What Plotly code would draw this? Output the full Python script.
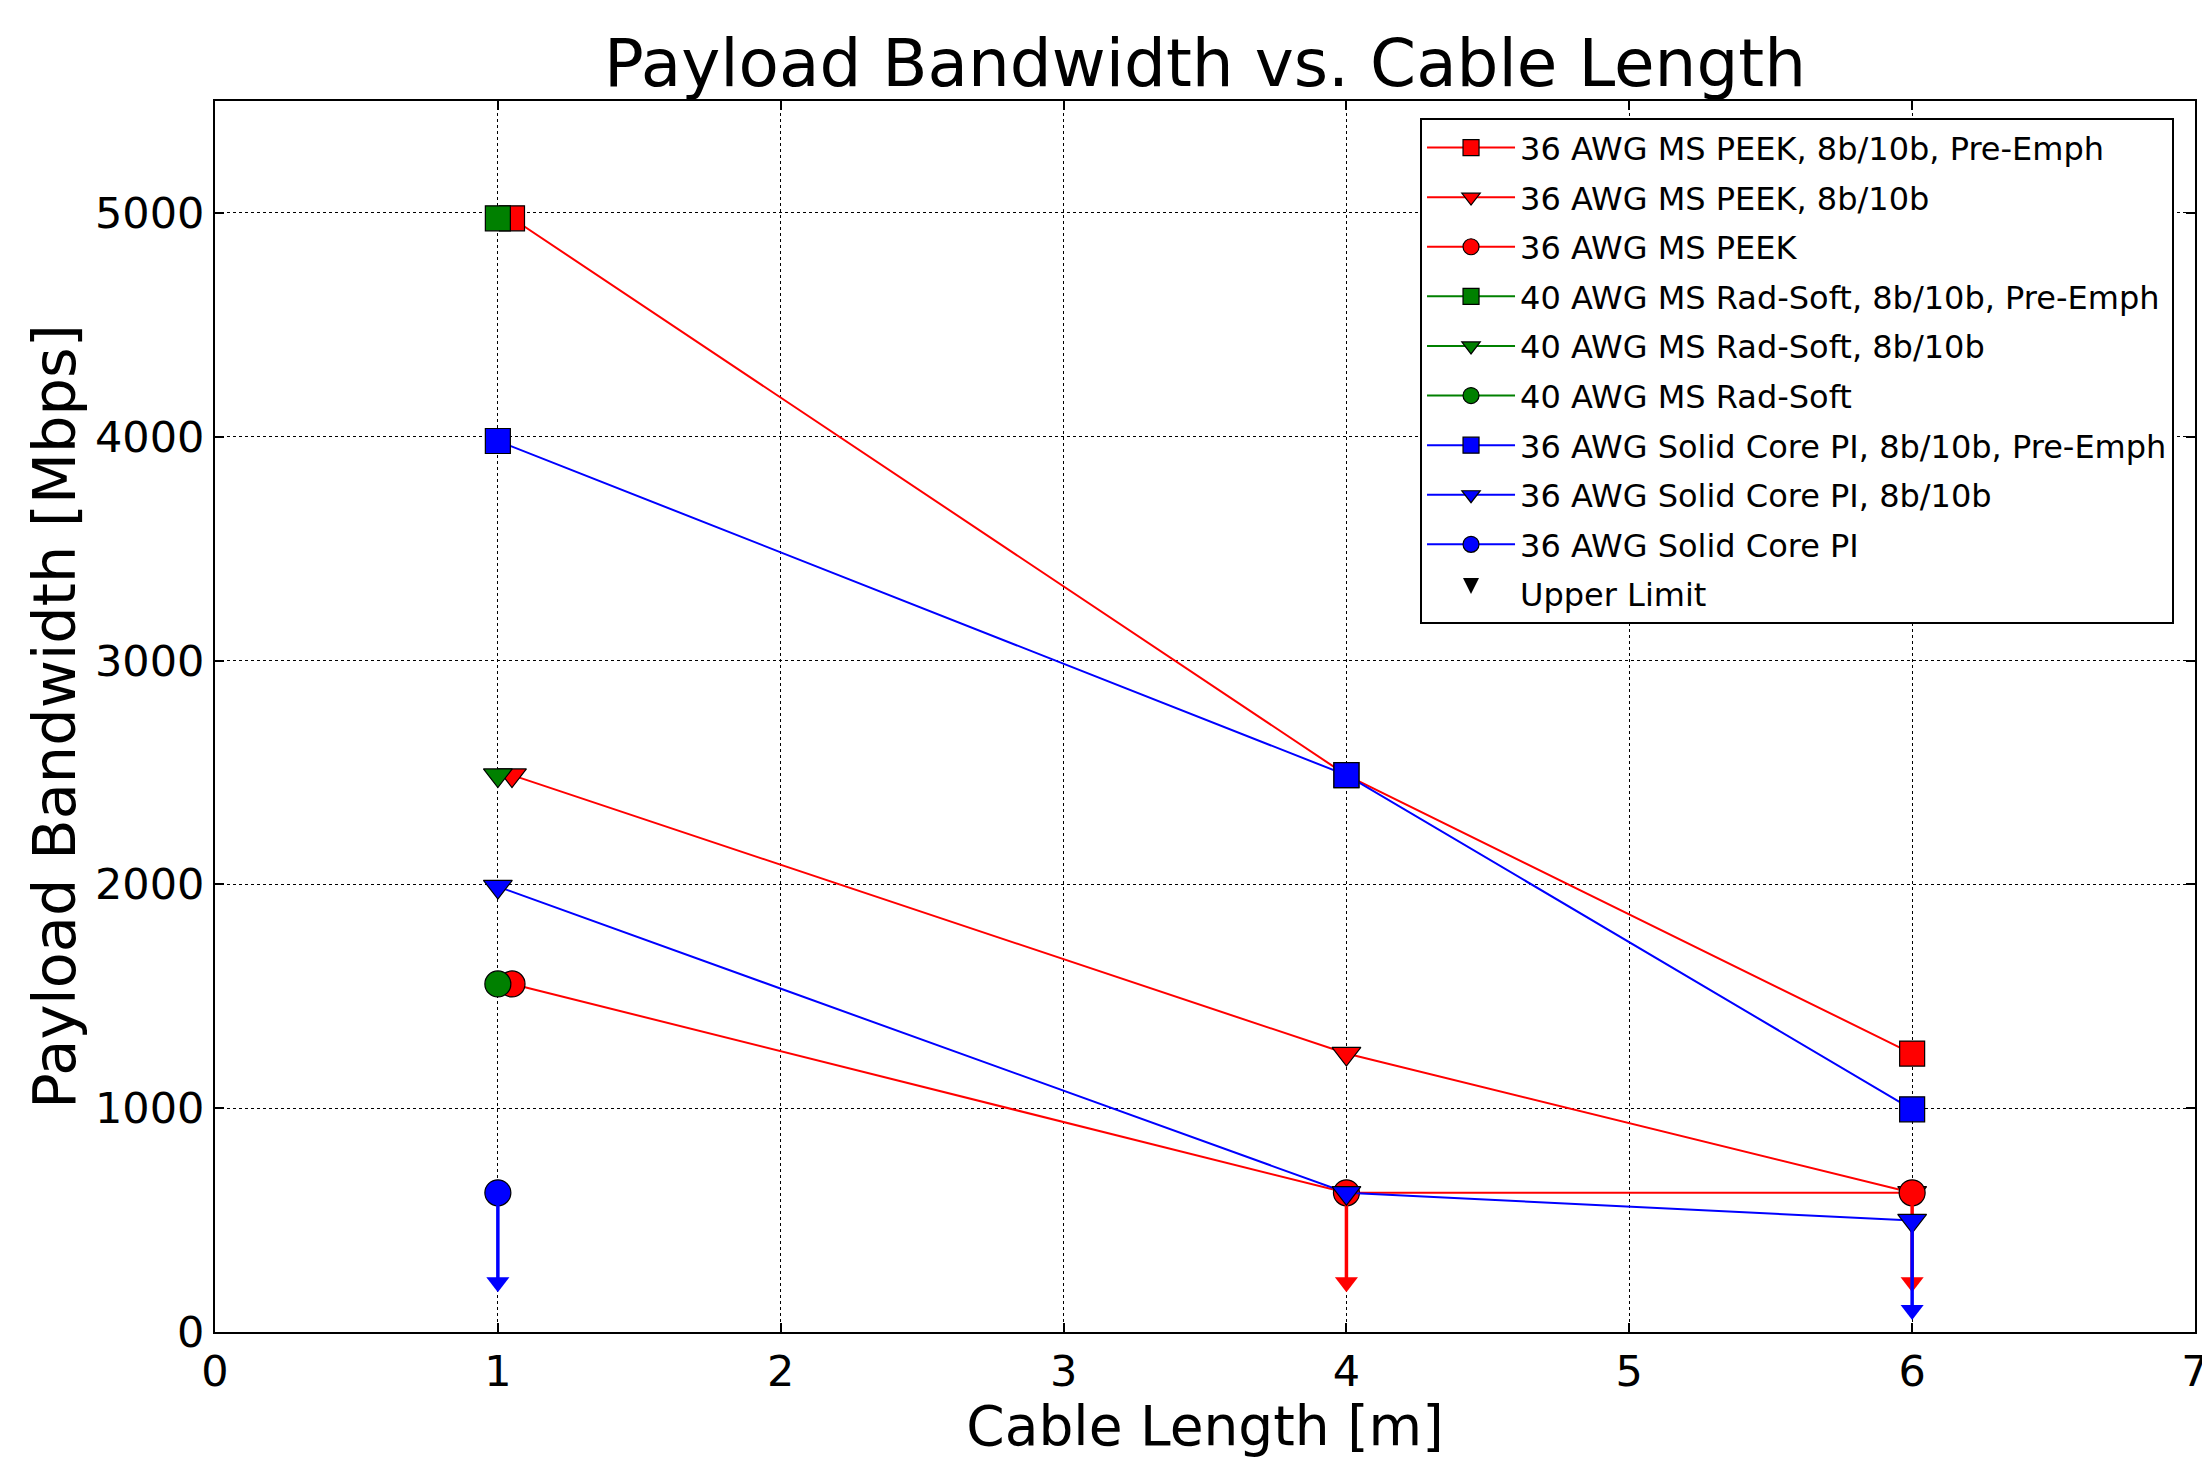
import plotly.graph_objects as go

# ---- data ----
lengths_m = [1, 4, 6]
lengths_offset = [1.05, 4, 6]          # red series plotted slightly right at 1 m
radsoft_len = [1]
pi_circle_len = [1]

peek_preemph = [4976, 2488, 1244]
peek_8b10b = [2488, 1244, 622]
peek_plain = [1555, 622, 622]
radsoft_preemph = [4976]
radsoft_8b10b = [2488]
radsoft_plain = [1555]
pi_preemph = [3981, 2488, 995]
pi_8b10b = [1990, 622, 498]
pi_plain = [622]

# upper-limit flags (value is an upper limit)
peek_plain_uplim = [False, True, True]
pi_8b10b_uplim = [False, False, True]
pi_plain_uplim = [True]
uplim_len = 400

x_ticks = [0, 1, 2, 3, 4, 5, 6, 7]
y_ticks = [0, 1000, 2000, 3000, 4000, 5000]

RED, GREEN, BLUE = "#ff0000", "#008000", "#0000ff"
FONT = "DejaVu Sans"

fig = go.Figure()
_grp = [0]


def add_series(name, xs, ys, color, symbol, size):
    _grp[0] += 1
    fig.add_trace(go.Scatter(
        x=xs, y=ys, name=name, mode="lines+markers", legendgroup=f"g{_grp[0]}",
        line=dict(color=color, width=2),
        marker=dict(symbol=symbol, size=size, color=color,
                    line=dict(color="black", width=1.2)),
    ))


def add_uplims(xs, ys, flags, color):
    for xv, yv, f in zip(xs, ys, flags):
        if not f:
            continue
        fig.add_trace(go.Scatter(
            x=[xv, xv], y=[yv, yv - uplim_len], mode="lines",
            line=dict(color=color, width=3.5), showlegend=False, hoverinfo="skip"))
        fig.add_trace(go.Scatter(
            x=[xv], y=[yv - uplim_len], mode="markers",
            marker=dict(symbol="triangle-down", size=20, color=color,
                        line=dict(width=0)),
            showlegend=False, hoverinfo="skip"))


add_series("36 AWG MS PEEK, 8b/10b, Pre-Emph", lengths_offset, peek_preemph, RED, "square", 25)
add_series("36 AWG MS PEEK, 8b/10b", lengths_offset, peek_8b10b, RED, "triangle-down", 25)
add_series("36 AWG MS PEEK", lengths_offset, peek_plain, RED, "circle", 26)
add_uplims(lengths_offset, peek_plain, peek_plain_uplim, RED)
add_series("40 AWG MS Rad-Soft, 8b/10b, Pre-Emph", radsoft_len, radsoft_preemph, GREEN, "square", 25)
add_series("40 AWG MS Rad-Soft, 8b/10b", radsoft_len, radsoft_8b10b, GREEN, "triangle-down", 25)
add_series("40 AWG MS Rad-Soft", radsoft_len, radsoft_plain, GREEN, "circle", 26)
add_series("36 AWG Solid Core PI, 8b/10b, Pre-Emph", lengths_m, pi_preemph, BLUE, "square", 25)
add_series("36 AWG Solid Core PI, 8b/10b", lengths_m, pi_8b10b, BLUE, "triangle-down", 25)
add_series("36 AWG Solid Core PI", pi_circle_len, pi_plain, BLUE, "circle", 26)
add_uplims(lengths_m, pi_8b10b, pi_8b10b_uplim, BLUE)
add_uplims(pi_circle_len, pi_plain, pi_plain_uplim, BLUE)

# legend entry for upper limits
fig.add_trace(go.Scatter(
    x=[None], y=[None], name="Upper Limit", mode="markers", legendgroup="gul",
    marker=dict(symbol="arrow-down", size=16, color="black")))

axis_common = dict(
    showline=True, linecolor="black", linewidth=2, mirror="ticks",
    ticks="inside", ticklen=9, tickwidth=1.5, tickcolor="black",
    showgrid=True, gridcolor="black", gridwidth=1, griddash="dot",
    zeroline=False, tickfont=dict(family=FONT, size=43, color="black"),
    ticklabeloverflow="allow", automargin=False,
)

fig.update_xaxes(range=[0, 7], tickvals=x_ticks, ticktext=[str(v) for v in x_ticks],
                 title=dict(text="Cable Length [m]", font=dict(family=FONT, size=55, color="black"),
                            standoff=8),
                 **axis_common)
fig.update_yaxes(range=[0, 5500], tickvals=y_ticks, ticktext=[str(v) for v in y_ticks],
                 title=dict(text="Payload Bandwidth [Mbps]", font=dict(family=FONT, size=59, color="black"),
                            standoff=0),
                 **axis_common)

fig.update_layout(
    width=2202, height=1458,
    margin=dict(l=215, r=7, t=101, b=126, autoexpand=False),
    paper_bgcolor="white", plot_bgcolor="white",
    font=dict(family=FONT, color="black"),
    title=dict(text="Payload Bandwidth vs. Cable Length", x=0.5, xref="paper", xanchor="center",
               y=1 - 63 / 1458, yanchor="middle", font=dict(family=FONT, size=66, color="black")),
    legend=dict(x=0.6086, xanchor="left", y=0.986, yanchor="top",
                bgcolor="white", bordercolor="black", borderwidth=2,
                itemwidth=88, tracegroupgap=5,
                font=dict(family=FONT, size=32, color="black")),
    showlegend=True,
)

fig.write_html("out.html", config={"displayModeBar": False},
               post_script="document.body.style.margin='0';")
